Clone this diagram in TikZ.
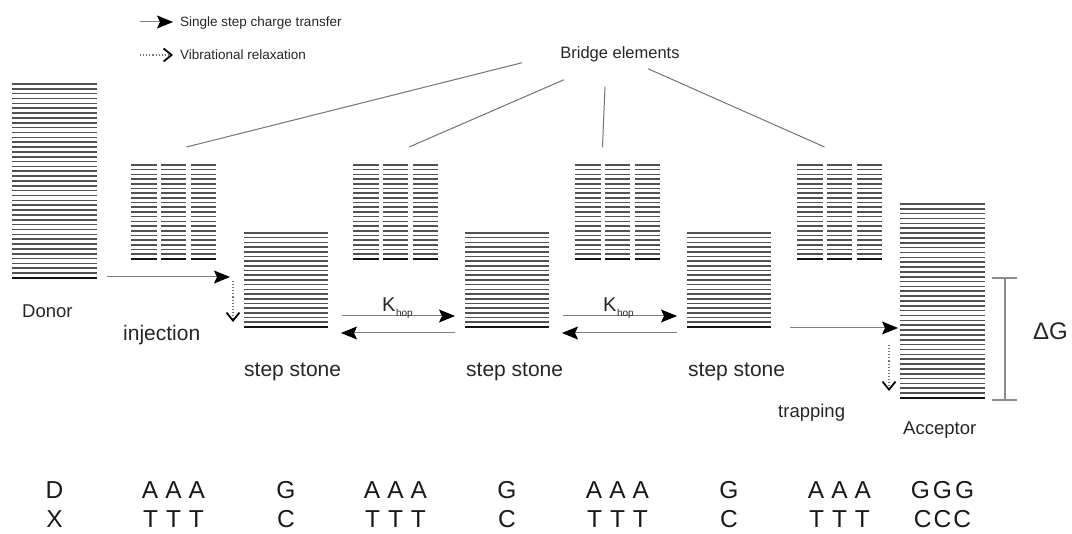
\documentclass[tikz,border=0pt]{standalone}
\usepackage{fontspec}
\setmainfont{Liberation Sans}
\usetikzlibrary{arrows.meta,calc}

\tikzset{
  stackline/.style={line width=1.6pt, draw=black!68},
  stackbottom/.style={line width=2.3pt, draw=black!92},
  boxnode/.style={inner sep=0pt, outer sep=0pt},
  ct/.style={draw=black!50, line width=1pt, -{Stealth[length=16pt,width=13pt,inset=3pt,color=black]}},
  vr/.style={draw=black!55, line width=1.1pt, dotted, -{Straight Barb[length=8pt,width=13pt,line width=1.8pt,color=black]}},
  bridgeline/.style={draw=black!55, line width=1pt},
  lbl/.style={inner sep=0pt, text=black!85, font=\fontsize{18.5}{21}\selectfont, anchor=base west},
  biglbl/.style={inner sep=0pt, text=black!85, font=\fontsize{21}{24}\selectfont, anchor=base west},
  small/.style={inner sep=0pt, text=black!85, font=\fontsize{13.5}{16}\selectfont, anchor=base west},
  base/.style={inner sep=0pt, text=black!90, font=\fontsize{24.5}{27}\selectfont, anchor=base},
  dg/.style={draw=black!45, line width=1.2pt}
}

\newcommand\levelsdraw[5]{%
  \foreach \k in {0,...,#5}{%
    \pgfmathsetmacro\yy{#3+(#4-#3)*\k/#5}%
    \draw[stackline] (#1,\yy) -- (#2,\yy);}%
  \draw[stackbottom] (#1,#4) -- (#2,#4);}

\newcommand\mkstack[6]{%
  \node[boxnode, minimum width={#3-#2}, minimum height={#5-#4}] (#1) at ({(#2+#3)/2},{(#4+#5)/2}) {};
  \levelsdraw{#2}{#3}{#4}{#5}{#6}}

\newcommand\mkbridge[4]{%
  \node[boxnode, minimum width=85, minimum height={#4-#3}] (#1) at ({#2+42.5},{(#3+#4)/2}) {};
  \levelsdraw{#2}{#2+25.5}{#3}{#4}{20}
  \levelsdraw{#2+29.75}{#2+55.25}{#3}{#4}{20}
  \levelsdraw{#2+59.5}{#2+85}{#3}{#4}{20}}

\begin{document}
\begin{tikzpicture}[x=1pt,y=-1pt]
\useasboundingbox (0,0) rectangle (1072,534);

% legend
\coordinate (lg1a) at (140,22);
\coordinate (lg1b) at (173,22);
\coordinate (lg2a) at (140,55);
\coordinate (lg2b) at (173,55);
\draw[ct] (lg1a) -- (lg1b);
\draw[vr] (lg2a) -- (lg2b);
\node[small] (lt1) at (180,27) {Single step charge transfer};
\node[small] (lt2) at (180,60) {Vibrational relaxation};

% stacks
\mkstack{donor}{12}{97}{84}{278}{40}
\mkstack{step1}{244}{328}{233}{327}{20}
\mkstack{step2}{465}{549}{233}{327}{20}
\mkstack{step3}{687}{771}{233}{327}{20}
\mkstack{acc}{900}{985}{204}{398}{40}
\mkbridge{b1}{131}{165}{259}
\mkbridge{b2}{353}{165}{259}
\mkbridge{b3}{575}{165}{259}
\mkbridge{b4}{797}{165}{259}

% bridge label and lines
\node[inner sep=0pt, text=black!85, font=\fontsize{16.5}{19}\selectfont, anchor=base] (bl) at (620,59) {Bridge elements};
\draw[bridgeline] ([shift={(-98,8)}]bl.center) -- ([shift={(13,-18)}]b1.north);
\draw[bridgeline] ([shift={(-56,25)}]bl.center) -- ([shift={(13.6,-18)}]b2.north);
\draw[bridgeline] ([shift={(-15,32)}]bl.center) -- ([shift={(-15,-18)}]b3.north);
\draw[bridgeline] ([shift={(28,14)}]bl.center) -- ([shift={(-15,-18)}]b4.north);

% injection
\draw[ct] ($(donor.south east)+(10,-1)$) -- ($(step1.west |- donor.south)+(-14,-1)$);
\draw[vr] ($(step1.west |- donor.south)+(-11,3)$) -- ($(step1.south west)+(-11,-5)$);
\node[biglbl] (inj) at (123,341) {injection};

% hopping
\draw[ct] ($(step1.south east)+(14,-11)$) -- ($(step2.south west)+(-10,-11)$);
\draw[ct] ($(step2.south west)+(-10,6)$) -- ($(step1.south east)+(13,6)$);
\draw[ct] ($(step2.south east)+(14,-11)$) -- ($(step3.south west)+(-10,-11)$);
\draw[ct] ($(step3.south west)+(-10,6)$) -- ($(step2.south east)+(13,6)$);
\node[inner sep=0pt, anchor=base west, text=black!85, font=\fontsize{20}{22}\selectfont] (k1) at (382,312) {K\kern0.5pt\raisebox{-5pt}{\fontsize{10}{11}\selectfont hop}};
\node[inner sep=0pt, anchor=base west, text=black!85, font=\fontsize{20}{22}\selectfont] (k2) at (603,312) {K\kern0.5pt\raisebox{-5pt}{\fontsize{10}{11}\selectfont hop}};

% trapping
\draw[ct] ($(step3.south east)+(19,1)$) -- ($(acc.west |- step3.south)+(-2,1)$);
\draw[vr] ($(acc.west |- step3.south)+(-11,18)$) -- ($(acc.south west)+(-11,-7)$);
\node[lbl] (trap) at (778,418) {trapping};

% labels
\node[lbl] (dl) at (22,318) {Donor};
\node[biglbl] (s1) at (244,377) {step stone};
\node[biglbl] (s2) at (466,377) {step stone};
\node[biglbl] (s3) at (688,377) {step stone};
\node[lbl] (al) at (903,435) {Acceptor};

% Delta G bracket
\coordinate (dgt) at (1005,278);
\coordinate (dgb) at (1005,400);
\draw[dg] (dgt) -- (dgb);
\draw[dg] ($(dgt)+(-13,0)$) -- ($(dgt)+(12,0)$);
\draw[dg] ($(dgb)+(-13,0)$) -- ($(dgb)+(12,0)$);
\node[inner sep=0pt, anchor=base west, text=black!85, font=\fontsize{24}{26}\selectfont] (dG) at (1033,340) {ΔG};

% base letters
\node[base] (r1d) at (donor.center |- 0,499) {D};
\node[base] (r2d) at (donor.center |- 0,528) {X};
\node[base] (r1b1) at (b1.center |- 0,499) {A\kern7pt A\kern7pt A};
\node[base] (r2b1) at (b1.center |- 0,528) {T\kern8pt T\kern8pt T};
\node[base] (r1s1) at (step1.center |- 0,499) {G};
\node[base] (r2s1) at (step1.center |- 0,528) {C};
\node[base] (r1b2) at (b2.center |- 0,499) {A\kern7pt A\kern7pt A};
\node[base] (r2b2) at (b2.center |- 0,528) {T\kern8pt T\kern8pt T};
\node[base] (r1s2) at (step2.center |- 0,499) {G};
\node[base] (r2s2) at (step2.center |- 0,528) {C};
\node[base] (r1b3) at (b3.center |- 0,499) {A\kern7pt A\kern7pt A};
\node[base] (r2b3) at (b3.center |- 0,528) {T\kern8pt T\kern8pt T};
\node[base] (r1s3) at (step3.center |- 0,499) {G};
\node[base] (r2s3) at (step3.center |- 0,528) {C};
\node[base] (r1b4) at (b4.center |- 0,499) {A\kern7pt A\kern7pt A};
\node[base] (r2b4) at (b4.center |- 0,528) {T\kern8pt T\kern8pt T};
\node[base] (r1a) at (acc.center |- 0,499) {G\kern3pt G\kern3pt G};
\node[base] (r2a) at (acc.center |- 0,528) {C\kern2pt C\kern2pt C};
\end{tikzpicture}
\end{document}
